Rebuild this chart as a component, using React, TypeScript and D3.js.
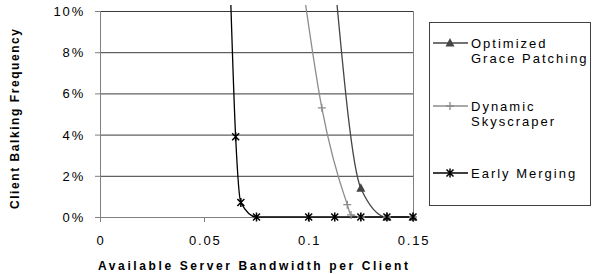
import React, { useEffect, useRef } from 'react';
import * as d3 from 'd3';

// bandwidth (x) and balking frequency in % (y)
const ogpX = [0.1125, 0.125, 0.1375, 0.15];
const ogpY = [11.5, 1.4, 0, 0];
const dsX = [0.0955, 0.1063, 0.1185, 0.1203, 0.125, 0.1375, 0.15];
const dsY = [12.5, 5.3, 0.6, 0.1, 0, 0, 0];
const emX = [0.0625, 0.065, 0.0675, 0.075, 0.1, 0.1125, 0.125, 0.1375, 0.15];
const emY = [11, 3.9, 0.7, 0, 0, 0, 0, 0, 0];

const xTicks = [0, 0.05, 0.1, 0.15];
const xTickLabels = ['0', '0.05', '0.1', '0.15'];
const yTicks = [0, 2, 4, 6, 8, 10];
const yTickLabels = ['0%', '2%', '4%', '6%', '8%', '10%'];
const seriesNames = ['Optimized\nGrace Patching', 'Dynamic\nSkyscraper', 'Early Merging'];

const FONT = "'Liberation Sans', Arial, sans-serif";

const App = () => {
  const svgRef = useRef<SVGSVGElement>(null);

  useEffect(() => {
    document.body.style.margin = '0';
    const W = 592, H = 274;
    const svg = d3.select(svgRef.current).attr('width', W).attr('height', H);
    svg.selectAll('*').remove();

    const x = d3.scaleLinear().domain([0, 0.15]).range([100, 413]);
    const y = d3.scaleLinear().domain([0, 10]).range([217, 11]);

    // gridlines
    svg.append('g').selectAll('line')
      .data(yTicks.filter(t => t > 0))
      .enter().append('line')
      .attr('x1', x(0)).attr('x2', x(0.15))
      .attr('y1', d => y(d) + 0.5).attr('y2', d => y(d) + 0.5)
      .attr('stroke', '#3a3a3a').attr('stroke-width', 1);

    // right border
    svg.append('line')
      .attr('x1', x(0.15) + 0.5).attr('x2', x(0.15) + 0.5)
      .attr('y1', y(10)).attr('y2', y(0))
      .attr('stroke', '#808080');

    // axes
    const axisColor = '#808080';
    svg.append('line')
      .attr('x1', x(0) + 0.5).attr('x2', x(0) + 0.5)
      .attr('y1', y(10)).attr('y2', y(0) + 0.5)
      .attr('stroke', axisColor);
    svg.append('line')
      .attr('x1', x(0)).attr('x2', x(0.15))
      .attr('y1', y(0) + 0.5).attr('y2', y(0) + 0.5)
      .attr('stroke', axisColor);

    svg.append('g').selectAll('line')
      .data(yTicks).enter().append('line')
      .attr('x1', x(0) - 5).attr('x2', x(0))
      .attr('y1', d => y(d) + 0.5).attr('y2', d => y(d) + 0.5)
      .attr('stroke', axisColor);
    svg.append('g').selectAll('line')
      .data(xTicks).enter().append('line')
      .attr('x1', d => Math.round(x(d)) + 0.5).attr('x2', d => Math.round(x(d)) + 0.5)
      .attr('y1', y(0)).attr('y2', y(0) + 5)
      .attr('stroke', axisColor);

    svg.append('g').selectAll('text')
      .data(yTicks).enter().append('text')
      .attr('x', 85).attr('y', d => y(d) + 5)
      .attr('text-anchor', 'end')
      .attr('font-family', FONT).attr('font-size', 13)
      .attr('letter-spacing', 1.8)
      .text((d, i) => yTickLabels[i]);

    svg.append('g').selectAll('text')
      .data(xTicks).enter().append('text')
      .attr('x', d => x(d) + 1).attr('y', 245)
      .attr('text-anchor', 'middle')
      .attr('font-family', FONT).attr('font-size', 13)
      .attr('letter-spacing', 1.8)
      .text((d, i) => xTickLabels[i]);

    // axis titles
    svg.append('text')
      .attr('x', 98).attr('y', 270)
      .attr('font-family', FONT).attr('font-size', 12).attr('font-weight', 'bold')
      .attr('textLength', 310).attr('lengthAdjust', 'spacing')
      .text('Available Server Bandwidth per Client');
    svg.append('text')
      .attr('transform', 'translate(19,209) rotate(-90)')
      .attr('font-family', FONT).attr('font-size', 12).attr('font-weight', 'bold')
      .attr('textLength', 180).attr('lengthAdjust', 'spacing')
      .text('Client Balking Frequency');

    // series
    svg.append('defs').append('clipPath').attr('id', 'plotclip')
      .append('rect').attr('x', 95).attr('y', 5).attr('width', 330).attr('height', 225);

    const line = d3.line<[number, number]>()
      .x(d => x(d[0])).y(d => y(d[1]))
      .curve(d3.curveMonotoneX);

    const series = [
      { xs: ogpX, ys: ogpY, color: '#454545', marker: 'tri' },
      { xs: dsX, ys: dsY, color: '#8c8c8c', marker: 'plus' },
      { xs: emX, ys: emY, color: '#000000', marker: 'star' },
    ];

    const drawMarker = (g: any, type: string, cx: number, cy: number, color: string) => {
      if (type === 'tri') {
        g.append('path')
          .attr('d', `M${cx},${cy - 5}L${cx + 4.5},${cy + 3.5}L${cx - 4.5},${cy + 3.5}Z`)
          .attr('fill', color);
      } else if (type === 'plus') {
        g.append('path')
          .attr('d', `M${cx - 4},${cy}H${cx + 4}M${cx},${cy - 4}V${cy + 4}`)
          .attr('stroke', color).attr('stroke-width', 1.3).attr('fill', 'none');
      } else {
        g.append('path')
          .attr('d', `M${cx - 3.5},${cy - 3.5}L${cx + 3.5},${cy + 3.5}M${cx - 3.5},${cy + 3.5}L${cx + 3.5},${cy - 3.5}M${cx},${cy - 4.5}V${cy + 4.5}`)
          .attr('stroke', color).attr('stroke-width', 1.5).attr('fill', 'none');
      }
    };

    const plot = svg.append('g').attr('clip-path', 'url(#plotclip)');
    series.forEach(s => {
      const pts: [number, number][] = s.xs.map((v, i) => [v, s.ys[i]]);
      plot.append('path')
        .datum(pts)
        .attr('fill', 'none')
        .attr('stroke', s.color)
        .attr('stroke-width', 1.3)
        .attr('d', line);
    });
    series.forEach(s => {
      s.xs.forEach((v, i) => {
        if (s.ys[i] <= 10) drawMarker(plot, s.marker, x(v), y(s.ys[i]), s.color);
      });
    });

    // legend
    svg.append('rect')
      .attr('x', 429.5).attr('y', 22.5).attr('width', 161).attr('height', 183)
      .attr('fill', 'none').attr('stroke', '#404040');
    const legY = [43, 106, 173];
    series.forEach((s, i) => {
      const g = svg.append('g');
      g.append('line')
        .attr('x1', 433).attr('x2', 468)
        .attr('y1', legY[i]).attr('y2', legY[i])
        .attr('stroke', s.color).attr('stroke-width', 1.3);
      drawMarker(g, s.marker, 450, legY[i], s.color);
      const lines = seriesNames[i].split('\n');
      lines.forEach((t, j) => {
        g.append('text')
          .attr('x', 471).attr('y', legY[i] + 5 + j * 15)
          .attr('font-family', FONT).attr('font-size', 13)
          .attr('letter-spacing', 2)
          .text(t);
      });
    });
  }, []);

  return <svg ref={svgRef} style={{ display: 'block' }}></svg>;
};

export default App;
